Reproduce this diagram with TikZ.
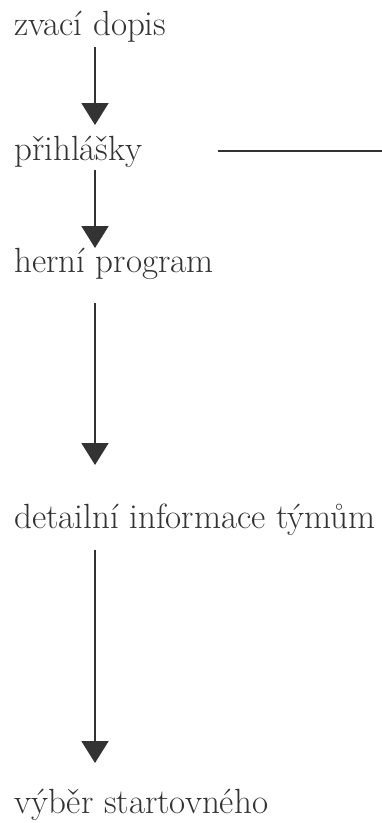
\documentclass[tikz,border=0pt]{standalone}
\usepackage{fontspec}
\usetikzlibrary{arrows.meta,calc}
\definecolor{ink}{HTML}{333333}
\tikzset{
  lbl/.style={anchor=base west, inner sep=0pt, text=ink, font=\rmfamily\fontsize{35}{40}\selectfont},
  arr/.style={draw=ink, line width=1.8pt, -{Triangle[length=22pt,width=27pt]}},
  plain/.style={draw=ink, line width=1.6pt}
}
\begin{document}
\begin{tikzpicture}[x=1pt,y=-1pt]
\useasboundingbox (0,0) rectangle (382,823);
\coordinate (col) at (95,0);
\node[lbl] (z) at (14,35) {zvací dopis};
\node[lbl] (p) at (14,160) {přihlášky};
\node[lbl] (h) at (14,272) {herní program};
\node[lbl] (d) at (14,528) {detailní informace týmům};
\node[lbl] (v) at (14,813) {výběr startovného};
\coordinate (hs) at (218,151);
\coordinate (he) at (382,151);
\draw[arr] ($(z.base -| col)+(0,12)$) -- ($(p.base -| col)+(0,-35)$);
\draw[arr] ($(p.base -| col)+(0,10)$) -- ($(h.base -| col)+(0,-24)$);
\draw[arr] ($(h.base -| col)+(0,31)$) -- ($(d.base -| col)+(0,-63)$);
\draw[arr] ($(d.base -| col)+(0,22)$) -- ($(v.base -| col)+(0,-50)$);
\draw[plain] (hs) -- (he);
\end{tikzpicture}
\end{document}
